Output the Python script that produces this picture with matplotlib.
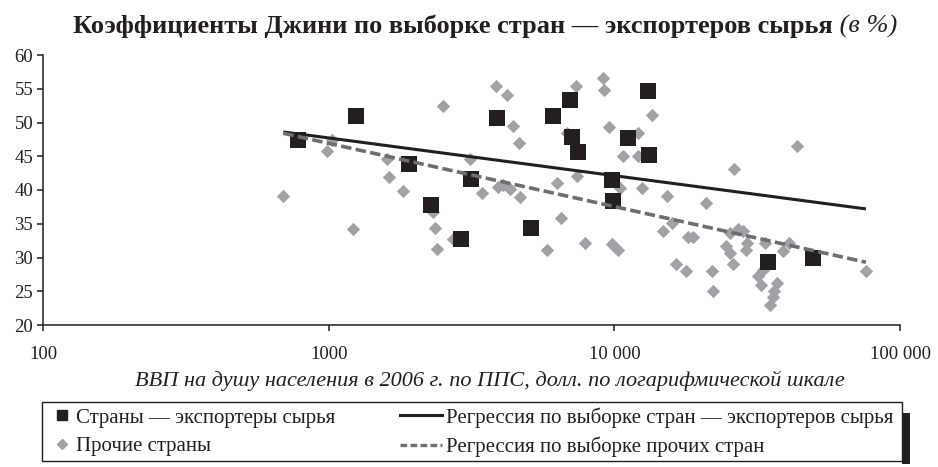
import matplotlib

matplotlib.use("Agg")
import matplotlib.pyplot as plt
from matplotlib.lines import Line2D
from matplotlib.patches import Rectangle
from matplotlib.ticker import FixedFormatter, FixedLocator, NullLocator

plt.rcParams["font.family"] = ["Liberation Serif", "DejaVu Serif"]

# Страны - экспортеры сырья: ВВП на душу (ППС, долл.), коэффициент Джини (%)
exp_gdp = [781, 1246, 1915, 2280, 2897, 3148, 3873, 5106, 6083, 6992,
           7088, 7475, 9786, 9863, 11134, 13080, 13215, 34410, 49700]
exp_gini = [47.4, 50.9, 43.8, 37.8, 32.8, 41.6, 50.6, 34.4, 50.9, 53.4,
            47.8, 45.6, 41.5, 38.4, 47.7, 54.7, 45.2, 29.4, 30.0]

# Прочие страны
oth_gdp = [694, 989, 1024, 1219, 1596, 1630, 1816, 2312, 2362, 2399,
           2518, 2716, 3123, 3448, 3842, 3923, 4084, 4198, 4311, 4428,
           4636, 4673, 5795, 6281, 6503, 6808, 7338, 7415, 7891, 9100,
           9196, 9598, 9786, 10320, 10460, 10740, 12060, 12120, 12460, 13510,
           14830, 15350, 15880, 16390, 17810, 18140, 18890, 20870, 21900, 22190,
           24590, 25390, 25390, 25950, 26290, 27150, 28130, 28810, 29040, 31850,
           32740, 33160, 33650, 35040, 35820, 36190, 36990, 39020, 40850, 43550,
           75960]
oth_gini = [39.1, 45.8, 47.4, 34.2, 44.6, 41.9, 39.8, 36.8, 34.4, 31.2,
            52.4, 32.7, 44.6, 39.5, 55.4, 40.5, 40.7, 54.1, 40.2, 49.5,
            47.0, 39.0, 31.1, 41.1, 35.9, 48.5, 55.4, 42.1, 32.1, 56.6,
            54.8, 49.3, 32.0, 31.1, 40.3, 45.1, 48.4, 45.1, 40.3, 51.1,
            34.0, 39.1, 35.1, 29.0, 28.0, 33.1, 33.0, 38.1, 28.0, 25.0,
            31.7, 33.7, 30.7, 29.0, 43.1, 34.2, 34.0, 31.1, 32.1, 27.2,
            25.9, 28.1, 32.2, 23.0, 24.1, 25.0, 26.2, 31.0, 32.1, 46.5,
            28.0]

# регрессии: значения на краях диапазона выборки
reg_exp = [48.6, 37.2]
reg_oth = [48.4, 29.3]

x_ticks = [100, 1000, 10000, 100000]
x_tick_labels = ["100", "1000", "10 000", "100 000"]
y_ticks = [20, 25, 30, 35, 40, 45, 50, 55, 60]

BLACK = "#231f20"
GRAY = "#a1a2a5"
DASH = "#6d6e71"
W, H = 938, 467

fig = plt.figure(figsize=(W / 100, H / 100), dpi=100)
ax = fig.add_axes([43 / W, 1 - 325 / H, 857 / W, 270 / H])

reg_x = [min(oth_gdp), max(oth_gdp)]
ax.scatter(oth_gdp, oth_gini, marker="D", s=46, color=GRAY, linewidths=0, zorder=2)
ax.scatter(exp_gdp, exp_gini, marker="s", s=120, color=BLACK, linewidths=0, zorder=3)
ax.plot(reg_x, reg_exp, color=BLACK, lw=2.2, zorder=4, solid_capstyle="butt")
ax.plot(reg_x, reg_oth, color=DASH, lw=2.6, ls=(0, (2.9, 1.2)), zorder=4)

ax.set_xscale("log")
ax.set_xlim(100, 100000)
ax.set_ylim(20, 60)
ax.xaxis.set_major_locator(FixedLocator(x_ticks))
ax.xaxis.set_major_formatter(FixedFormatter(x_tick_labels))
ax.xaxis.set_minor_locator(NullLocator())
ax.set_yticks(y_ticks)
for side in ("top", "right"):
    ax.spines[side].set_visible(False)
for side in ("left", "bottom"):
    ax.spines[side].set_linewidth(1.1)
    ax.spines[side].set_color(BLACK)
ax.tick_params(axis="both", direction="out", length=4, width=1.1, color=BLACK,
               labelsize=13.5, labelcolor=BLACK)
ax.tick_params(axis="x", pad=11)
ax.tick_params(axis="y", pad=3)
ax.set_xlabel("ВВП на душу населения в 2006 г. по ППС, долл. по логарифмической шкале",
              fontsize=16, style="italic", color=BLACK)
ax.xaxis.set_label_coords((490 - 43) / 857, -46 / 270)

# заголовок: жирная часть + курсив, по центру вместе
t1 = fig.text(0, 1 - 26 / H, "Коэффициенты Джини по выборке стран — экспортеров сырья",
              fontsize=19, fontweight="bold", color=BLACK, va="center", ha="left")
t2 = fig.text(0, 1 - 26 / H, " (в %)", fontsize=19, style="italic", color=BLACK,
              va="center", ha="left")
renderer = fig.canvas.get_renderer()
w1 = t1.get_window_extent(renderer).width
w2 = t2.get_window_extent(renderer).width
left = 485 - (w1 + w2) / 2
t1.set_x(left / W)
t2.set_x((left + w1) / W)

# легенда: рамка и две колонки
box_l, box_r, box_t, box_b = 42, 902, 402, 461
fig.add_artist(Rectangle((box_l / W, 1 - box_b / H), (box_r - box_l) / W,
                         (box_b - box_t) / H, transform=fig.transFigure,
                         fill=False, ec=BLACK, lw=1.0))
fig.add_artist(Rectangle((box_r / W, 1 - 464 / H), 8 / W, (464 - 413) / H,
                         transform=fig.transFigure, color=BLACK, lw=0))

marker_handles = [
    Line2D([], [], ls="none", marker="s", ms=7, color=BLACK),
    Line2D([], [], ls="none", marker="D", ms=4.6, color=GRAY),
]
marker_labels = ["Страны — экспортеры сырья", "Прочие страны"]
line_handles = [
    Line2D([], [], color=BLACK, lw=2.2),
    Line2D([], [], color=DASH, lw=2.4, ls=(0, (2.0, 1.0))),
]
line_labels = ["Регрессия по выборке стран — экспортеров сырья",
               "Регрессия по выборке прочих стран"]

leg_y = 1 - 432 / H
leg1 = fig.legend(marker_handles, marker_labels, loc="center left",
                  bbox_to_anchor=(54 / W, leg_y), fontsize=15, frameon=False,
                  borderpad=0, borderaxespad=0, handlelength=0.8,
                  handletextpad=0.25, labelspacing=0.42)
leg2 = fig.legend(line_handles, line_labels, loc="center left",
                  bbox_to_anchor=(400 / W, leg_y), fontsize=15, frameon=False,
                  borderpad=0, borderaxespad=0, handlelength=2.0,
                  handletextpad=0.2, labelspacing=0.42)
for leg in (leg1, leg2):
    for txt in leg.get_texts():
        txt.set_color(BLACK)

fig.savefig("out.png", dpi=100)
